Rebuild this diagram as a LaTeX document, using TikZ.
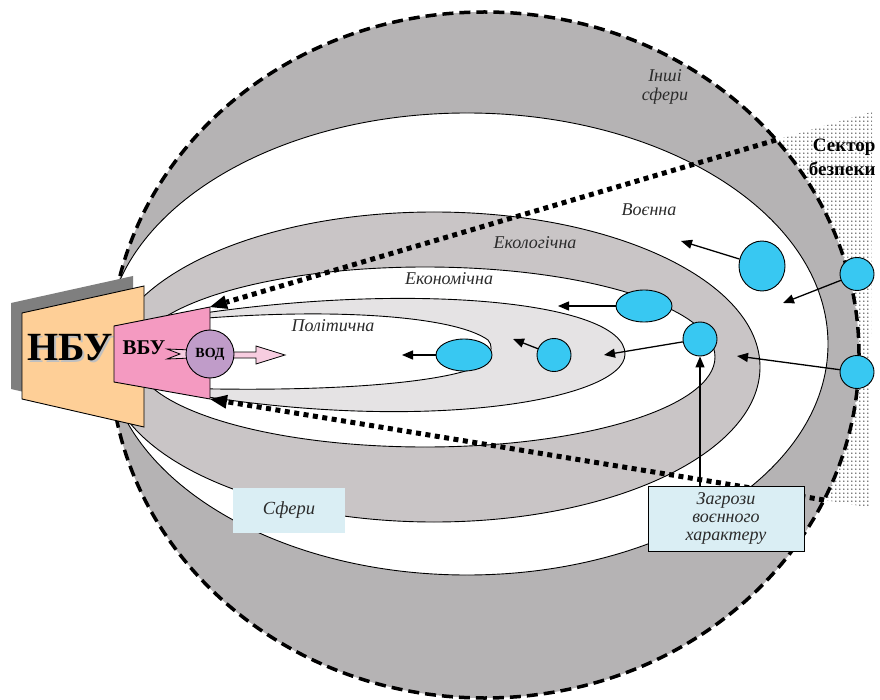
\documentclass[tikz,border=0pt]{standalone}
\usepackage{fontspec}
\setmainfont{Liberation Serif}
\usetikzlibrary{shapes.geometric,arrows.meta,calc,patterns.meta}

\definecolor{ringgray}{HTML}{B5B3B4}
\definecolor{ecogray}{HTML}{C9C5C6}
\definecolor{polgray}{HTML}{E5E3E4}
\definecolor{ballblue}{HTML}{38C8F2}
\definecolor{nbupeach}{HTML}{FECF97}
\definecolor{shadowgray}{HTML}{7F7F7F}
\definecolor{vbupink}{HTML}{F49AC1}
\definecolor{vodpurple}{HTML}{C09CC9}
\definecolor{arrowpink}{HTML}{F7CDE0}
\definecolor{infoblue}{HTML}{DAEEF4}
\definecolor{labelgray}{HTML}{2B2B2B}

\tikzdeclarepattern{
  name=sectordots,
  type=uncolored,
  bottom left={(0pt,0pt)},
  top right={(4.3pt,4.3pt)},
  tile size={(4.3pt,4.3pt)},
  code={\fill (2.15pt,2.15pt) circle (0.8pt);}
}

\begin{document}
\begin{tikzpicture}[x=1pt, y=-1pt,
    outline/.style={draw=black, line width=0.9pt},
    ball/.style={ellipse, draw=black, line width=0.9pt, fill=ballblue, inner sep=0pt},
    thr/.style={line width=1.3pt, -{Triangle[length=11pt,width=9pt]}},
    dotline/.style={line width=5pt, dash pattern=on 5pt off 4.5pt, -{Triangle[length=17pt,width=14pt,line width=0pt]}},
    sphere/.style={font=\fontsize{18}{19}\selectfont\itshape, text=labelgray},
    infobox/.style={fill=infoblue, font=\fontsize{18}{18}\selectfont\itshape, text=labelgray, align=center, inner sep=0pt}]
    \useasboundingbox (0,0) rectangle (880,700);

    % sector of security
    \coordinate (vbu-ne) at (210,307);
    \coordinate (vbu-se) at (210,399);
    \coordinate (sec-a) at (776,140);
    \coordinate (sec-b) at (824,500);
    \fill [pattern=sectordots, pattern color=black] (sec-a) -- ($(vbu-ne)!1.17!(sec-a)$) -- ($(vbu-se)!1.075!(sec-b)$) -- (sec-b) -- cycle;

    % spheres
    \coordinate (ctr) at (484.5,355);
    \fill [ringgray] (ctr) ellipse [x radius=374.5pt, y radius=343pt];
    \begin{scope}
        \clip (ctr) ellipse [x radius=374.5pt, y radius=343pt];
        \filldraw [fill=white, outline] (467,344) ellipse [x radius=361pt, y radius=231pt];
        \filldraw [fill=ecogray, outline] (434,367) ellipse [x radius=326pt, y radius=155pt];
        \filldraw [fill=white, outline] (425,357) ellipse [x radius=290pt, y radius=90pt];
        \filldraw [fill=polgray, outline] (172,318) .. controls (400,280) and (625,300) .. (625,354)
            .. controls (625,400) and (420,436) .. (172,391) -- cycle;
        \filldraw [fill=white, outline] (172,321) .. controls (330,306) and (455,316) .. (488,340)
            .. controls (497,350) and (486,366) .. (462,372) .. controls (410,386) and (300,392) .. (172,388) -- cycle;
    \end{scope}
    \draw [line width=3.5pt, dash pattern=on 11pt off 6pt] (ctr) ellipse [x radius=374.5pt, y radius=343pt];

    \node [sphere, align=center] (lbl-other) at (665,87) {Інші\\сфери};
    \node [sphere] (lbl-mil) at (649,210) {Воєнна};
    \node [sphere] (lbl-eco) at (535,243) {Екологічна};
    \node [sphere] (lbl-econ) at (449,279) {Економічна};
    \node [sphere] (lbl-pol) at (333,326) {Політична};
    \node [font=\fontsize{19}{24}\selectfont\bfseries, align=right, anchor=east] (sector) at (879,157) {Сектор\\безпеки};

    % NBU and VBU
    \fill [shadowgray] (11,303) -- (133,276) -- (133,417) -- (11,389) -- cycle;
    \filldraw [fill=nbupeach, outline] (22,313) -- (144,286) -- (144,427) -- (22,399) -- cycle;
    \node [font=\fontsize{40}{40}\selectfont\bfseries, text=black!25] (nbu-shadow) at (72,350) {НБУ};
    \node [font=\fontsize{40}{40}\selectfont\bfseries] (nbu) at (70,348) {НБУ};
    \filldraw [fill=vbupink, outline] (114,326) -- (vbu-ne) -- (vbu-se) -- (114,382) -- cycle;
    \node [font=\fontsize{21}{21}\selectfont\bfseries] (vbu) at (144,348) {ВБУ};
    \filldraw [fill=arrowpink, line width=0.8pt] (167,349) -- (192,350) -- (192,358) -- (167,359) -- (180,354) -- cycle;
    \filldraw [fill=arrowpink, line width=0.8pt] (228,352) -- (256,352) -- (256,346) -- (285,355)
        -- (256,364) -- (256,358) -- (228,358) -- cycle;
    \node [circle, draw=black, line width=0.9pt, fill=vodpurple, minimum size=48pt, inner sep=0pt,
        font=\fontsize{14}{14}\selectfont\bfseries] (vod) at (210,354) {ВОД};

    \draw [dotline] (sec-a) -- (vbu-ne);
    \draw [dotline] (sec-b) -- (vbu-se);

    % threats
    \node [ball, minimum width=56pt, minimum height=32pt] (b-pol) at (464,355) {};
    \node [ball, minimum width=34pt, minimum height=33pt] (b-ec1) at (554,355) {};
    \node [ball, minimum width=56pt, minimum height=32pt] (b-ec2) at (644,306) {};
    \node [ball, minimum width=34pt, minimum height=34pt] (b-ec3) at (700,339) {};
    \node [ball, minimum width=46pt, minimum height=50pt] (b-mil) at (762,266) {};
    \node [ball, minimum width=34pt, minimum height=33pt] (b-out1) at (857,274) {};
    \node [ball, minimum width=34pt, minimum height=33pt] (b-out2) at (857,372) {};

    \coordinate (t-pol) at (402,355);
    \coordinate (t-ec1) at (513,339);
    \coordinate (t-ec2) at (558,306);
    \coordinate (t-ec3) at (604,355);
    \coordinate (t-mil) at (681,241);
    \coordinate (t-out1) at (783,303);
    \coordinate (t-out2) at (737,356);
    \draw [thr] (b-pol) -- (t-pol);
    \draw [thr] (b-ec1) -- (t-ec1);
    \draw [thr] (b-ec2) -- (t-ec2);
    \draw [thr] (b-ec3) -- (t-ec3);
    \draw [thr] (b-mil) -- (t-mil);
    \draw [thr] (b-out1) -- (t-out1);
    \draw [thr] (b-out2) -- (t-out2);

    \node [infobox, minimum width=112pt, minimum height=45pt, font=\fontsize{18.5}{19}\selectfont\itshape] (spheres) at (289,510.5) {Сфери};
    \node [infobox, draw=black, line width=0.9pt, minimum width=156pt, minimum height=65pt] (threat) at (726,518.5) {Загрози\\воєнного\\характеру};
    \draw [thr] (threat.north -| b-ec3.south) -- (b-ec3.south);
\end{tikzpicture}
\end{document}
